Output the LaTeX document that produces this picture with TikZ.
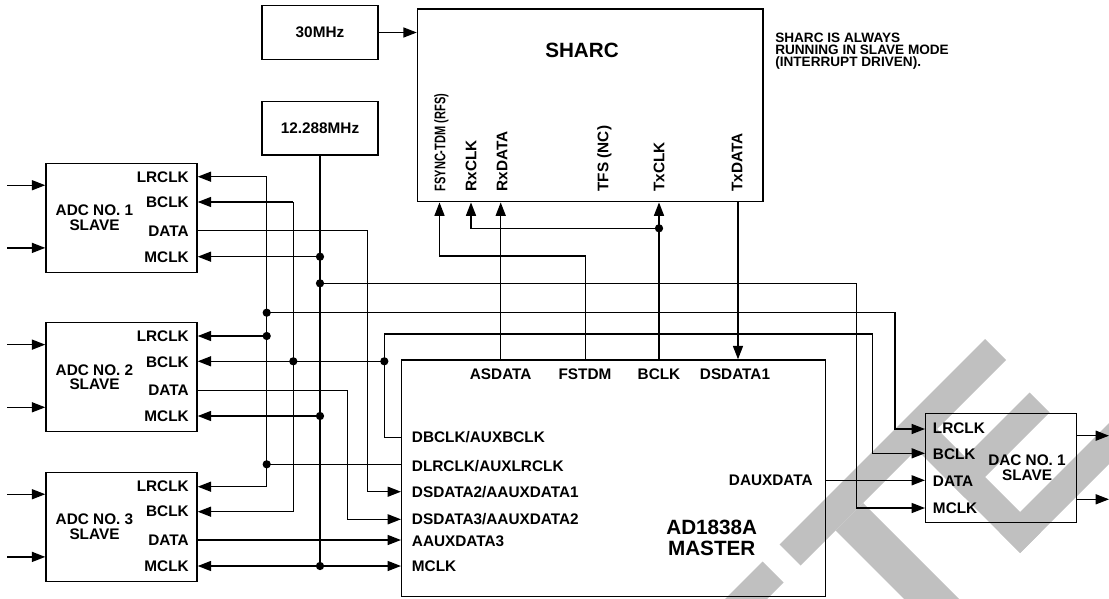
\documentclass[tikz,border=0pt]{standalone}
\usepackage{fontspec}
\setmainfont{Liberation Sans}
\usepackage{graphicx}
\usetikzlibrary{arrows.meta,fit}
\definecolor{wmgray}{RGB}{192,192,192}
\newcommand\pinf{\fontsize{11.5}{11.2}\selectfont\bfseries}
\newcommand\bigf{\fontsize{15.5}{15.2}\selectfont\bfseries}
\newcommand\notef{\fontsize{10.2}{9}\selectfont\bfseries}
\begin{document}
\begin{tikzpicture}[x=0.75pt,y=-0.75pt,
  box/.style={draw,line width=1.1pt,inner sep=0pt},
  wire/.style={line width=1pt},
  arr/.style={wire,-{Triangle[length=10pt,width=7.5pt]}},
  darr/.style={wire,{Triangle[length=10pt,width=7.5pt]}-{Triangle[length=10pt,width=7.5pt]}},
  jdot/.style={circle,fill,inner sep=0pt,minimum size=6.2pt},
  lbl/.style={font=\pinf,inner sep=0pt,text height=8.2pt,text depth=0pt},
  ttl/.style={font=\bigf,inner sep=0pt,align=center},
  sub/.style={font=\pinf,inner sep=0pt,align=center},
  note/.style={font=\notef,inner sep=0pt,text height=7.3pt,text depth=0pt,anchor=west},
  wm/.style={fill=wmgray,draw=none}]
\useasboundingbox (0,0) rectangle (1109,599);
% watermark
\begin{scope}
\clip (0,0) rectangle (1109,599);
\fill[wm] (712,612) -- (762.5,561.5) -- (783.5,582.5) -- (733,633) -- cycle;
\fill[wm] (779.5,544.5) -- (985,339) -- (1006,360) -- (800.5,565.5) -- cycle;
\fill[wm] (835.5,530.5) -- (863,503) -- (990,630) -- (935,630) -- cycle;
\fill[wm] (906,439) -- (926.5,418.5) -- (1040.5,532.5) -- (1020,553) -- cycle;
\fill[wm] (999.5,532.5) -- (1126,406) -- (1146.5,426.5) -- (1020,553) -- cycle;
\fill[wm] (944.5,477.5) -- (1029.5,392.5) -- (1049.5,412.5) -- (964.5,497.5) -- cycle;
\end{scope}
% boxes
\node[box,fit={(262,5.7) (378,59.3)}] (f30) {};
\node[box,fit={(262,101.7) (378,155)}] (f12) {};
\node[box,fit={(417.5,9) (763,201.7)}] (sharc) {};
\node[box,fit={(46,163.3) (197,272.7)}] (adc1) {};
\node[box,fit={(46,322.7) (197,431.7)}] (adc2) {};
\node[box,fit={(46,472.3) (197,581.7)}] (adc3) {};
\node[box,fit={(401.7,360) (825.7,596.7)}] (ad) {};
\node[box,fit={(925.7,413.3) (1076.7,522.5)}] (dac) {};
% box texts
\node[lbl] (t30) at (320,32.5) {30MHz};
\node[lbl] (t12) at (320,128.3) {12.288MHz};
\node[ttl] (tsh) at (582,50) {SHARC};
\node[note] (n1) at (775,37.5) {SHARC IS ALWAYS};
\node[note] (n2) at (775,49.5) {RUNNING IN SLAVE MODE};
\node[note] (n3) at (775,61.5) {(INTERRUPT DRIVEN).};
\node[lbl,rotate=90,anchor=west] (sfs) at (440,191.7) {\scalebox{0.72}[1]{FSYNC-TDM (RFS)}};
\node[lbl,rotate=90,anchor=west] (src) at (471,191.7) {RxCLK};
\node[lbl,rotate=90,anchor=west] (srd) at (502,191.7) {RxDATA};
\node[lbl,rotate=90,anchor=west] (stf) at (603,191.7) {TFS (NC)};
\node[lbl,rotate=90,anchor=west] (stc) at (659,191.7) {TxCLK};
\node[lbl,rotate=90,anchor=west] (std) at (737,191.7) {TxDATA};
\foreach \n/\y in {1/163.3,2/322.7,3/472.3}{
  \node[sub] (adcname\n) at (94.5,\y+54.5) {ADC NO. \n\\SLAVE};
  \node[lbl,anchor=east] (a\n lr) at (189,\y+13.4) {LRCLK};
  \node[lbl,anchor=east] (a\n bc) at (189,\y+38.9) {BCLK};
  \node[lbl,anchor=east] (a\n da) at (189,\y+67.6) {DATA};
  \node[lbl,anchor=east] (a\n mc) at (189,\y+93.5) {MCLK};
}
\node[lbl] (pas) at (500.7,374) {ASDATA};
\node[lbl] (pfs) at (585,374) {FSTDM};
\node[lbl] (pbc) at (659,374) {BCLK};
\node[lbl] (pd1) at (735,374) {DSDATA1};
\node[lbl,anchor=west] (pdb) at (411.7,437.5) {DBCLK/AUXBCLK};
\node[lbl,anchor=west] (pdl) at (411.7,466) {DLRCLK/AUXLRCLK};
\node[lbl,anchor=west] (pd2) at (411.7,491.7) {DSDATA2/AAUXDATA1};
\node[lbl,anchor=west] (pd3) at (411.7,519.3) {DSDATA3/AAUXDATA2};
\node[lbl,anchor=west] (pa3) at (411.7,541.3) {AAUXDATA3};
\node[lbl,anchor=west] (pmc) at (411.7,566.5) {MCLK};
\node[lbl,anchor=east] (pdx) at (813,480) {DAUXDATA};
\node[ttl] (tad) at (711.7,538) {AD1838A\\MASTER};
\node[lbl,anchor=west] (dlr) at (932.7,428.3) {LRCLK};
\node[lbl,anchor=west] (dbc) at (932.7,453.8) {BCLK};
\node[lbl,anchor=west] (dda) at (932.7,481) {DATA};
\node[lbl,anchor=west] (dmc) at (932.7,507.7) {MCLK};
\node[sub] (tdac) at (1027,467.7) {DAC NO. 1\\SLAVE};
% coordinates
\coordinate (m1) at (320,256.7);
\coordinate (mr) at (320,283.3);
\coordinate (m2) at (320,416);
\coordinate (m3) at (320,566);
\coordinate (lrtop) at (266.7,176.7);
\coordinate (lrA) at (266.7,312.7);
\coordinate (lr2) at (266.7,336);
\coordinate (lrD) at (266.7,464.3);
\coordinate (lrbot) at (266.7,486.7);
\coordinate (btop) at (293.3,202);
\coordinate (b2) at (293.3,361.3);
\coordinate (bbot) at (293.3,511.7);
\coordinate (bb) at (384.3,361.3);
\coordinate (bbtop) at (384.3,334);
\coordinate (kM) at (856.7,283.3);
\coordinate (kL) at (895,312.7);
\coordinate (kB) at (872.7,334);
\coordinate (kD1) at (367.7,491.7);
\coordinate (kD2) at (347.7,519.3);
\coordinate (kF) at (439.5,256);
\coordinate (tc) at (659,228.3);
% MCLK bus
\draw[wire] (f12.south) -- (m3);
\draw[arr] (m1) -- (adc1.east |- m1);
\draw[arr] (m2) -- (adc2.east |- m2);
\draw[darr] (adc3.east |- m3) -- (ad.west |- m3);
\draw[arr] (mr) -- (kM) |- (dac.west |- 0,508);
% LRCLK bus
\draw[arr] (lrtop) -- (adc1.east |- lrtop);
\draw[arr] (lrtop) -- (lrbot) -- (adc3.east |- lrbot);
\draw[arr] (lr2) -- (adc2.east |- lr2);
\draw[wire] (lrD) -- (ad.west |- lrD);
\draw[arr] (lrA) -- (kL) |- (dac.west |- 0,429);
% BCLK bus
\draw[arr] (btop) -- (adc1.east |- btop);
\draw[arr] (btop) -- (bbot) -- (adc3.east |- bbot);
\draw[arr] (bb) -- (adc2.east |- bb);
\draw[arr] (ad.west |- 0,437.3) -| (bbtop) -- (kB) |- (dac.west |- 0,453.3);
% ADC data
\draw[arr] (adc1.east |- 0,230.7) -| (kD1) -- (ad.west |- kD1);
\draw[arr] (adc2.east |- 0,390.7) -| (kD2) -- (ad.west |- kD2);
\draw[arr] (adc3.east |- 0,540) -- (ad.west |- 0,540);
% ADC inputs
\foreach \n in {1,2,3}{
  \draw[arr] ([xshift=-28.5pt,yshift=-17pt]adc\n.north west) -- ([yshift=-17pt]adc\n.north west);
  \draw[arr] ([xshift=-28.5pt,yshift=-64pt]adc\n.north west) -- ([yshift=-64pt]adc\n.north west);
}
% SHARC
\draw[arr] (f30.east) -- (sharc.west |- f30.east);
\draw[arr] (ad.north -| 585.7,0) |- (kF) -- (sharc.south -| kF);
\draw[arr] (ad.north -| 500.7,0) -- (sharc.south -| 500.7,0);
\draw[arr] (ad.north -| tc) -- (sharc.south -| tc);
\draw[arr] (tc) -| (sharc.south -| 471,0);
\draw[arr] (sharc.south -| 738,0) -- (ad.north -| 738,0);
% DAC
\draw[arr] (ad.east |- 0,480.3) -- (dac.west |- 0,480.3);
\draw[arr] (dac.east |- 0,435.7) -- (1109,435.7);
\draw[arr] (dac.east |- 0,499.3) -- (1109,499.3);
% junction dots
\foreach \c in {m1,mr,m2,m3,lrA,lr2,lrD,b2,bb,tc}{
  \node[jdot] (d\c) at (\c) {};
}
\end{tikzpicture}
\end{document}
